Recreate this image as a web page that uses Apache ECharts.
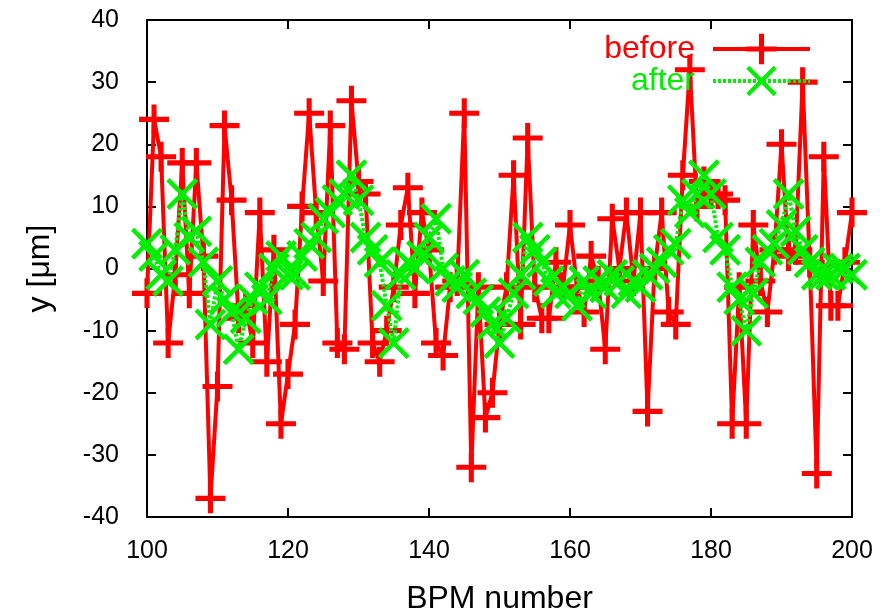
<!DOCTYPE html>
<html><head><meta charset="utf-8">
<script src="https://cdn.jsdelivr.net/npm/echarts@6/dist/echarts.min.js"></script>
<style>html,body{margin:0;padding:0;background:#fff}#c{width:894px;height:615px}</style>
</head><body><div id="c"></div>
<script>
// BPM numbers 100..200
const bpm = [];
for (let n = 100; n <= 200; n++) bpm.push(n);

const before = [
 -4, 24, 18,-12, -1, 17, -4, 17,  2,-37,
-19, 23, 11, -8, -6,-12,  9,-15,  3,-25,
-17, -9, 10, 25,  9, -2, 23,-12,-13, 27,
 14, 12,-12,-15,-10, -3,  7, 13, -4,  9,
  3,-12,-14, -3, -2, 25,-32, -3,-24,-20,
 -9, -3, 15, -9, 21, -3, -8, -8,  1, -3,
  7, -3, -7,  2, -2,-13,  8,  0,  9, -2,
  9,-23,  0,  9, -7, -9, 15, 32, 10, 14,
 12, 12, 11,-25, -3,-25,  7, -2, -7,  3,
 20,  2,  3, 30,  1,-33, 18, -6, -6,  1,
  9];

const after = [
  4,  2, -1, -2,  3, 12,  5,  6,  1, -9,
 -2, -5, -7,-13, -8, -5, -3, -5,  0,  2,
 -1, -1,  2,  4,  5,  8,  9, 11, 12, 15,
 11,  5,  3,  1, -6,-12, -1,  1,  0,  2,
  5,  8,  0, -2, -3, -1, -4, -5, -7, -9,
-12, -8, -4, -1,  5,  3,  1, -2, -4, -3,
 -4, -6, -2, -4, -2, -3, -1, -2, -4, -2,
 -3, -1,  0,  1,  3,  4, 11,  9, 12, 15,
 12,  5,  3, -3, -5,-10, -4,  1,  3,  4,
  7, 12,  6,  3,  1, -1, -1, -1,  0,  0,
 -1];

const seriesNames = ['before', 'after'];
const colors = ['#ff0000', '#00ee00'];

const plusPath = 'path://M8.3,0 H11.7 V8.3 H20 V11.7 H11.7 V20 H8.3 V11.7 H0 V8.3 H8.3 Z';
const crossPath = 'path://M0,2 L2,0 L10,8 L18,0 L20,2 L12,10 L20,18 L18,20 L10,12 L2,20 L0,18 L8,10 Z';

const FONT = 'Liberation Sans';
const chart = echarts.init(document.getElementById('c'), null, {renderer: 'canvas'});

const axisCommon = {
  type: 'value',
  axisLine: {show: true, onZero: false, lineStyle: {color: '#000', width: 2}},
  axisTick: {show: true, inside: true, length: 9, lineStyle: {color: '#000', width: 2}},
  splitLine: {show: false},
};

chart.setOption({
  animation: false,
  backgroundColor: '#fff',
  grid: {left: 147, right: 42, top: 20, bottom: 98, containLabel: false, outerBoundsMode: 'none'},
  legend: {
    orient: 'vertical',
    right: 82, top: 33,
    padding: 0,
    align: 'right',
    itemWidth: 97, itemHeight: 38, itemGap: 0,
    lineStyle: {width: 4},
    textStyle: {fontFamily: FONT, fontSize: 32, padding: [0, 13, 0, 0]},
    data: [
      {name: seriesNames[0], textStyle: {color: colors[0]}},
      {name: seriesNames[1], textStyle: {color: colors[1]}}
    ]
  },
  xAxis: [
    Object.assign({}, axisCommon, {
      position: 'bottom', min: 100, max: 200, interval: 20,
      name: 'BPM number', nameLocation: 'middle', nameGap: 66,
      nameTextStyle: {fontFamily: FONT, fontSize: 32, color: '#000'},
      axisLabel: {fontFamily: FONT, fontSize: 25, color: '#000', margin: 22}
    }),
    Object.assign({}, axisCommon, {
      position: 'top', min: 100, max: 200, interval: 20,
      axisLabel: {show: false}
    })
  ],
  yAxis: [
    Object.assign({}, axisCommon, {
      position: 'left', min: -40, max: 40, interval: 10,
      name: 'y [\u03bcm]', nameLocation: 'middle', nameGap: 91, nameRotate: 90,
      nameTextStyle: {fontFamily: FONT, fontSize: 32, color: '#000'},
      axisLabel: {fontFamily: FONT, fontSize: 25, color: '#000', margin: 28}
    }),
    Object.assign({}, axisCommon, {
      position: 'right', min: -40, max: 40, interval: 10,
      axisLabel: {show: false}
    })
  ],
  series: [
    {
      name: seriesNames[0], type: 'line',
      data: bpm.map((b, i) => [b, before[i]]),
      symbol: plusPath, symbolSize: 30,
      lineStyle: {color: colors[0], width: 4},
      itemStyle: {color: colors[0]},
      showAllSymbol: true, z: 2
    },
    {
      name: seriesNames[1], type: 'line',
      data: bpm.map((b, i) => [b, after[i]]),
      symbol: crossPath, symbolSize: 32,
      lineStyle: {color: colors[1], width: 4, type: [3, 2]},
      itemStyle: {color: colors[1]},
      showAllSymbol: true, z: 3
    }
  ]
});
</script>
</body></html>
